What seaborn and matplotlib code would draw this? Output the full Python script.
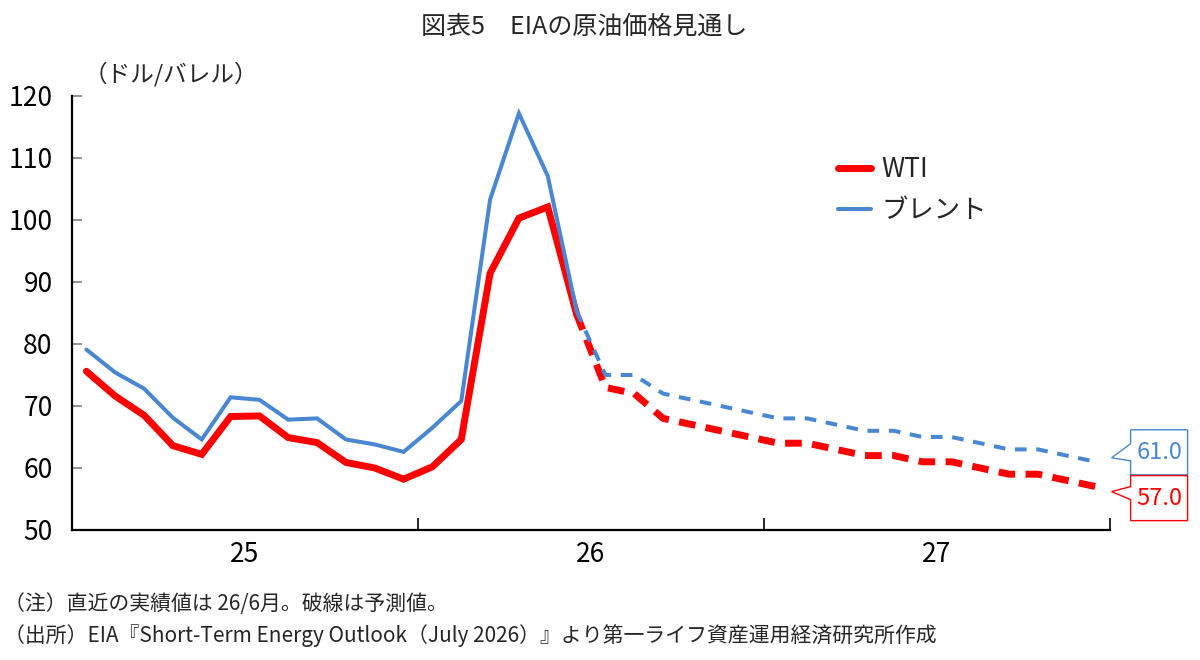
import numpy as np
import pandas as pd
import matplotlib
matplotlib.use("Agg")
import matplotlib.pyplot as plt
import seaborn as sns
from matplotlib.lines import Line2D
from matplotlib.patches import Polygon

# ---------------- data ----------------
year_labels = ["25", "26", "27"]
# actual: 2025/1 - 2026/6
wti_actual = [75.6, 71.6, 68.5, 63.6, 62.2, 68.3, 68.4, 64.9, 64.1, 60.9, 60.0, 58.2,
              60.2, 64.6, 91.4, 100.3, 102.1, 84.8]
brent_actual = [79.1, 75.4, 72.8, 68.1, 64.6, 71.4, 71.0, 67.8, 68.0, 64.6, 63.8, 62.6,
                66.5, 70.8, 103.3, 117.2, 107.1, 85.3]
# forecast: 2026/7 - 2027/12
wti_forecast = [73, 72, 68, 67, 66, 65, 64, 64, 63, 62, 62, 61, 61, 60, 59, 59, 58, 57]
brent_forecast = [75, 75, 72, 71, 70, 69, 68, 68, 67, 66, 66, 65, 65, 64, 63, 63, 62, 61]

series_names = ["WTI", "ブレント"]
title = "図表5　EIAの原油価格見通し"
unit_label = "（ドル/バレル）"
note1 = "（注）直近の実績値は 26/6月。破線は予測値。"
note2 = "（出所）EIA『Short-Term Energy Outlook（July 2026）』より第一ライフ資産運用経済研究所作成"

RED = "#FF0000"
BLUE = "#4A87D3"

# ---------------- setup ----------------
sns.set_theme(style="white")
plt.rcParams["font.family"] = ["Noto Sans CJK JP", "DejaVu Sans"]

W, H = 1200, 660
fig = plt.figure(figsize=(W / 100, H / 100), dpi=100)
ax = fig.add_axes([72 / W, 1 - 530 / H, (1110 - 72) / W, (530 - 96) / H])

n_act = len(wti_actual)
n_all = n_act + len(wti_forecast)
x_act = np.arange(n_act)
x_fc = np.arange(n_act - 1, n_all)

df_act = pd.DataFrame({"m": x_act, "WTI": wti_actual, "Brent": brent_actual})
df_fc = pd.DataFrame({"m": x_fc,
                      "WTI": [wti_actual[-1]] + wti_forecast,
                      "Brent": [brent_actual[-1]] + brent_forecast})

sns.lineplot(data=df_act, x="m", y="WTI", color=RED, lw=5, ax=ax,
             solid_joinstyle="miter")
sns.lineplot(data=df_fc, x="m", y="WTI", color=RED, lw=5, ax=ax,
             linestyle=(0, (2.4, 1.5)), dash_capstyle="butt")
sns.lineplot(data=df_act, x="m", y="Brent", color=BLUE, lw=2.9, ax=ax,
             solid_joinstyle="miter")
sns.lineplot(data=df_fc, x="m", y="Brent", color=BLUE, lw=2.9, ax=ax,
             linestyle=(0, (2.9, 2.4)), dash_capstyle="butt")

# ---------------- axes ----------------
ax.set_xlim(-0.5, n_all - 0.5)
ax.set_ylim(50, 120)
ax.set_yticks(np.arange(50, 121, 10))
ax.set_xlabel("")
ax.set_ylabel("")
for s in ["top", "right"]:
    ax.spines[s].set_visible(False)
for s in ["left", "bottom"]:
    ax.spines[s].set_color("black")
    ax.spines[s].set_linewidth(1.6)

ax.tick_params(axis="y", direction="in", length=7, width=1.2, color="#808080",
               labelsize=19, pad=14, left=True, labelcolor="black")
ax.set_xticks([11.5, 23.5, 35.5])
ax.set_xticklabels([])
ax.tick_params(axis="x", which="major", direction="in", length=9, width=1.2,
               color="black", bottom=True)
ax.set_xticks([5.5, 17.5, 29.5], minor=True)
ax.set_xticklabels(year_labels, minor=True)
ax.tick_params(axis="x", which="minor", length=0, labelsize=19, pad=8,
               labelcolor="black")
ax.grid(False)

# legend
handles = [Line2D([], [], color=RED, lw=5), Line2D([], [], color=BLUE, lw=2.9)]
ax.legend(handles, series_names, loc="upper left", bbox_to_anchor=(0.738, 0.862),
          frameon=False, fontsize=19, handlelength=1.25, handletextpad=0.4,
          labelspacing=0.55, borderpad=0, borderaxespad=0)

# ---------------- texts ----------------
fig.text(584 / W, 1 - 27 / H, title, ha="center", va="center", fontsize=18)
fig.text(84 / W, 1 - 74 / H, unit_label, ha="left", va="center", fontsize=17)
fig.text(4 / W, 1 - 604 / H, note1, ha="left", va="center", fontsize=15)
fig.text(4 / W, 1 - 636 / H, note2, ha="left", va="center", fontsize=15)

# ---------------- callouts ----------------
fig.canvas.draw()


def callout(value, color, box_top, box_bot, base_top, base_bot, tip_dy):
    dx, dy = ax.transData.transform((n_all - 1, value))
    ex, ey = dx, H - dy  # image coords
    left, right = ex + 35, ex + 92
    top, bot = ey + box_top, ey + box_bot
    tipx, tipy = ex + 16, ey + tip_dy
    pts = [(left, top), (right, top), (right, bot), (left, bot),
           (left, ey + base_bot), (tipx, tipy), (left, ey + base_top)]
    pts = [(x / W, 1 - y / H) for x, y in pts]
    fig.add_artist(Polygon(pts, closed=True, fc="white", ec=color, lw=1.0,
                           transform=fig.transFigure))
    fig.text((left + right) / 2 / W, 1 - (top + bot) / 2 / H, f"{value:.1f}",
             ha="center", va="center", fontsize=17, color=color)


callout(brent_forecast[-1], BLUE, -32, 13, -18, -1, -4)
callout(wti_forecast[-1], RED, -11, 34, 0, 13, 5)

fig.savefig("out.png", dpi=100)
